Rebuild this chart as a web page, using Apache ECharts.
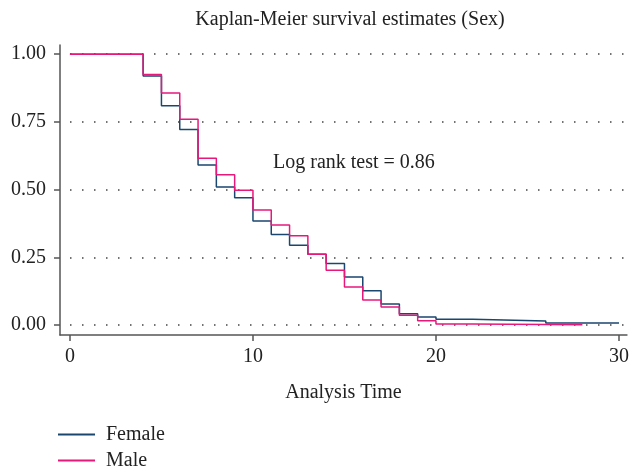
<!DOCTYPE html>
<html>
<head>
<meta charset="utf-8">
<script src="https://cdn.jsdelivr.net/npm/echarts@6/dist/echarts.min.js"></script>
<style>
html, body { margin: 0; padding: 0; background: #fff; }
#main { width: 632px; height: 472px; }
</style>
</head>
<body>
<div id="main"></div>
<script>
// step times and survival after each step (last point = end of follow-up)
var femaleTime = [0, 4, 5, 6, 7, 8, 9, 10, 11, 12, 13, 14, 15, 16, 17, 18, 19, 20, 22, 26, 30];
var femaleSurv = [1, 0.92, 0.81, 0.722, 0.591, 0.51, 0.47, 0.385, 0.335, 0.295, 0.262, 0.228, 0.178, 0.127, 0.078, 0.042, 0.030, 0.022, 0.016, 0.008, 0.008];
var maleTime = [0, 4, 5, 6, 7, 8, 9, 10, 11, 12, 13, 14, 15, 16, 17, 18, 19, 20, 22, 28];
var maleSurv = [1, 0.925, 0.857, 0.76, 0.616, 0.555, 0.498, 0.425, 0.37, 0.33, 0.262, 0.203, 0.141, 0.093, 0.067, 0.037, 0.017, 0.005, 0.002, 0.002];
var xTicks = [0, 10, 20, 30];
var yTicks = [0, 0.25, 0.5, 0.75, 1];

function pairs(t, s) {
    return t.map(function (v, i) { return [v, s[i]]; });
}

var myChart = echarts.init(document.getElementById('main'));
var serif = 'Liberation Serif';

option = {
    backgroundColor: '#fff',
    animation: false,
    title: [{
        text: 'Kaplan-Meier survival estimates (Sex)',
        left: 345,
        top: 5,
        textAlign: 'center',
        textStyle: { fontFamily: serif, fontSize: 20, fontWeight: 'normal', color: '#222' }
    }, {
        text: 'Log rank test = 0.86',
        left: 268,
        top: 148,
        textStyle: { fontFamily: serif, fontSize: 20, fontWeight: 'normal', color: '#222' }
    }],
    legend: {
        orient: 'vertical',
        left: 58,
        top: 424,
        padding: 0,
        itemWidth: 37,
        itemHeight: 2,
        itemGap: 5,
        icon: 'rect',
        textStyle: { fontFamily: serif, fontSize: 20, lineHeight: 21, color: '#222', padding: [0, 0, 0, 6] },
        data: ['Female', 'Male']
    },
    grid: { left: 60, right: 2, top: 45, bottom: 137 },
    xAxis: {
        type: 'value',
        min: -0.543,
        max: 30.435,
        name: 'Analysis Time',
        nameLocation: 'middle',
        nameGap: 48,
        nameTextStyle: { fontFamily: serif, fontSize: 20, color: '#222' },
        axisLine: { onZero: false, lineStyle: { color: '#555', width: 1.5 } },
        axisTick: { customValues: xTicks, length: 6, lineStyle: { color: '#555', width: 1.5 } },
        axisLabel: { customValues: xTicks, fontFamily: serif, fontSize: 20, color: '#222', margin: 12 },
        splitLine: { show: false }
    },
    yAxis: {
        type: 'value',
        min: -0.036,
        max: 1.034,
        axisLine: { show: true, onZero: false, lineStyle: { color: '#555', width: 1.5 } },
        axisTick: { show: true, customValues: yTicks, length: 6, lineStyle: { color: '#555', width: 1.5 } },
        axisLabel: {
            customValues: yTicks, fontFamily: serif, fontSize: 20, color: '#222', margin: 14,
            formatter: function (v) { return v.toFixed(2); }
        },
        splitLine: {
            show: true,
            lineStyle: { color: '#444', width: 1.5, type: [1.5, 10.5], dashOffset: -10 }
        }
    },
    series: [{
        name: 'Female',
        type: 'line',
        step: 'end',
        symbol: 'none',
        color: '#1a476f',
        lineStyle: { width: 1.5 },
        data: pairs(femaleTime, femaleSurv)
    }, {
        name: 'Male',
        type: 'line',
        step: 'end',
        symbol: 'none',
        color: '#e8177c',
        lineStyle: { width: 1.5 },
        data: pairs(maleTime, maleSurv)
    }]
};

myChart.setOption(option);
</script>
</body>
</html>
